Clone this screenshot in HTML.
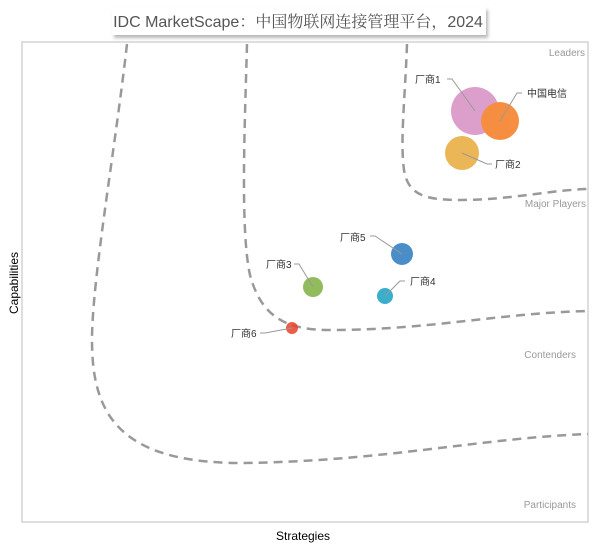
<!DOCTYPE html>
<html><head><meta charset="utf-8"><style>
body{margin:0;background:#fff;width:600px;height:546px;overflow:hidden}
</style></head><body>
<svg width="600" height="546" xmlns="http://www.w3.org/2000/svg" font-family="Liberation Sans, Noto Sans CJK SC, sans-serif">
<defs><filter id="sh" x="-5%" y="-20%" width="115%" height="160%"><feDropShadow dx="2" dy="3" stdDeviation="1.5" flood-color="#888" flood-opacity="0.6"/></filter></defs>
<rect x="112" y="7" width="374" height="28" fill="#fff" filter="url(#sh)"/>
<text x="298" y="27" text-anchor="middle" font-size="16" fill="#555" font-family="Liberation Sans, Noto Serif CJK SC, sans-serif">IDC MarketScape：中国物联网连接管理平台，2024</text>
<rect x="22" y="42" width="566" height="480" fill="none" stroke="#c8c8c8" stroke-width="1.2"/>
<g fill="none" stroke="#999" stroke-width="2.5" stroke-dasharray="9,6">
<path d="M127,44 C115,150 92,280 92,340 C92,410 115,462 238,463 C380,462 480,438 588,434"/>
<path d="M247,44 C245,120 240,230 250,275 C262,320 290,330 330,330 C430,330 500,313 588,311"/>
<path d="M407,44 C405,100 400,140 404,170 C408,195 425,200 460,200 C510,200 550,190 588,189"/>
</g>
<g font-size="10" fill="#999" text-anchor="end">
<text x="585" y="56">Leaders</text>
<text x="586" y="207">Major Players</text>
<text x="576" y="358">Contenders</text>
<text x="576" y="508">Participants</text>
</g>
<g opacity="0.85">
<circle cx="475" cy="111" r="24" fill="#d78fc4"/>
<circle cx="500" cy="121" r="19" fill="#f47b20"/>
<circle cx="462" cy="153" r="17" fill="#e8aa38"/>
<circle cx="402" cy="254" r="11" fill="#2a7bbf"/>
<circle cx="313" cy="287" r="10" fill="#7fb041"/>
<circle cx="385" cy="296" r="8" fill="#1aa0c2"/>
<circle cx="292" cy="328" r="6" fill="#e8402a"/>
</g>
<g fill="none" stroke="#999" stroke-width="1">
<polyline points="447,79 452,79 475,111"/>
<polyline points="522,93 517,93 500,121"/>
<polyline points="492,164 487,164 462,153"/>
<polyline points="370,236 375,236 402,254"/>
<polyline points="294,264 299,264 313,287"/>
<polyline points="405,281 400,281 385,296"/>
<polyline points="260,333 265,333 292,328"/>
</g>
<g font-size="10" fill="#333">
<text x="415" y="83">厂商1</text>
<text x="527" y="97">中国电信</text>
<text x="495" y="168">厂商2</text>
<text x="340" y="241">厂商5</text>
<text x="266" y="268">厂商3</text>
<text x="410" y="285">厂商4</text>
<text x="231" y="337">厂商6</text>
</g>
<text x="303" y="540" text-anchor="middle" font-size="12" fill="#000">Strategies</text>
<text transform="translate(18,283) rotate(-90)" text-anchor="middle" font-size="12" fill="#000">Capabilities</text>
</svg>
</body></html>
